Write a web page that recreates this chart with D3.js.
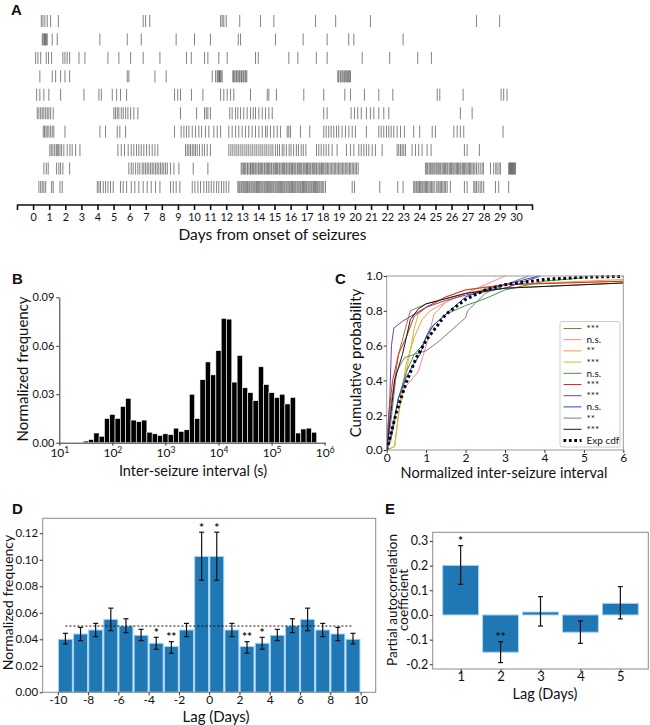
<!DOCTYPE html>
<html><head><meta charset="utf-8">
<script src="https://cdn.jsdelivr.net/npm/d3@7"></script>
<style>
body{margin:0;background:#fff}
svg text{font-family:Lato,"Open Sans",sans-serif;fill:#111}
</style></head><body>
<svg id="c" width="650" height="725"></svg>
<script>
// ---------------- DATA ----------------
// Panel A: seizure times (days from onset), one array per animal
const row1=[0.51,0.61,0.73,0.88,1.09,1.57,6.84,6.99,7.25,11.65,11.75,11.85,12.0,12.84,14.13,14.96,17.55,18.8,20.96,27.55,28.99];
const row2=[0.57,0.63,0.70,0.73,0.78,0.82,0.88,1.19,1.50,4.15,5.85,6.72,8.89,10.03,11.02,12.75,12.89,15.06,16.78,18.27,19.61,19.93,22.99];
const row3=[0.16,0.30,0.47,0.82,0.96,1.15,1.85,1.98,2.12,2.27,2.85,3.22,4.65,5.33,6.06,6.84,7.88,9.53,9.83,10.65,10.86,11.54,12.06,13.82,13.99,15.89,16.45,17.6,18.27,20.45,22.16,23.9,24.75];
const row4=[0.42,1.19,1.40,1.71,1.98,2.27,5.85,5.95,7.57,8.27,11.13,11.34,11.44,11.49,11.55,11.58,11.63,11.68,11.75,12.41,12.46,12.53,12.61,12.65,12.73,12.79,12.84,12.92,12.96,13.04,13.09,13.17,13.22,13.28,18.93,18.99,19.08,19.13,19.21,19.27,19.36,19.40,19.48,19.55,19.59,19.67,19.72];
const row5=[0.22,0.42,0.67,0.98,1.71,3.16,4.09,4.24,4.92,5.19,5.43,5.81,8.79,8.99,9.16,9.84,10.55,11.65,11.85,12.06,12.27,12.47,13.51,14.55,14.65,15.12,16.82,18.06,19.37,19.72,20.59,21.48,22.35,25.11,25.27,26.72,29.08,29.24,29.45];
const row6=[0.26,0.36,0.47,0.57,0.67,0.78,0.88,0.98,1.09,1.25,5.02,5.12,5.23,5.33,5.48,5.60,5.75,5.89,6.06,6.26,6.51,9.16,10.16,10.65,10.76,10.86,11.02,12.22,12.37,12.58,12.72,12.89,13.09,13.30,13.51,13.68,13.82,14.03,14.24,14.44,14.65,14.86,18.06,18.27,19.76,19.97,20.17,20.39,20.71,20.96,21.17,21.48,21.79,22.1,26.55,27.28];
const row7=[0.63,0.71,0.80,0.88,0.98,1.09,1.19,1.29,1.98,4.15,4.50,5.23,5.39,5.75,8.79,9.20,9.37,9.53,9.68,9.89,10.09,10.30,10.47,10.71,10.92,11.23,11.44,11.65,12.16,12.37,12.58,12.78,12.99,13.20,13.40,13.61,13.82,14.03,14.24,14.44,14.55,14.75,14.96,15.17,15.37,15.79,15.89,16.0,16.61,17.19,18.06,18.21,18.37,18.52,18.68,18.85,18.99,19.2,19.41,19.62,19.83,20.03,20.71,21.48,21.63,21.79,21.96,22.1,22.25,22.41,22.62,22.83,23.07,23.65,24.02,24.8,25.0,26.14,26.35,26.55,26.76,29.2];
const row8=[1.04,1.13,1.23,1.34,1.44,1.50,1.57,1.67,1.77,1.91,2.12,2.29,2.43,2.64,2.91,5.27,5.48,5.68,5.91,6.10,6.26,6.43,6.57,6.72,6.88,7.05,7.22,7.40,7.57,7.75,9.47,9.58,9.68,9.78,9.89,9.99,10.09,10.20,10.34,10.51,10.65,10.82,11.02,12.16,12.29,12.41,12.54,12.66,12.78,12.91,13.03,13.16,13.28,13.40,13.53,13.65,13.78,13.9,14.03,14.15,14.27,14.40,14.52,14.65,14.78,14.90,15.06,15.19,15.31,15.48,15.59,15.74,15.91,16.03,16.19,16.36,16.49,16.66,16.79,16.95,17.61,17.75,17.9,18.06,18.21,18.37,18.58,18.89,19.47,19.72,19.93,20.24,20.39,20.55,20.71,20.86,21.07,21.27,21.69,22.62,22.72,22.83,22.93,23.03,23.14,23.55,23.76,23.96,24.17,24.48,24.73,26.80,26.97,27.73];
const row9=[0.67,0.82,0.94,1.46,1.60,1.71,1.85,2.27,5.95,6.10,6.22,6.37,6.51,6.63,6.78,6.88,6.99,7.09,7.19,7.30,7.40,7.50,7.61,7.71,7.81,7.92,8.02,8.12,8.23,8.34,8.54,8.75,9.06,9.95,10.86,
12.93,12.99,13.08,13.13,13.21,13.30,13.34,13.42,13.51,13.55,13.63,13.70,13.78,13.84,13.91,14.00,14.05,14.14,14.20,14.27,14.36,14.41,14.49,14.57,14.62,14.70,14.78,14.83,14.92,14.98,15.06,15.13,15.19,15.28,15.33,15.41,15.49,15.55,15.62,15.71,15.76,15.84,15.92,15.97,16.06,16.12,16.20,16.27,16.33,16.42,16.48,16.56,16.63,16.69,16.78,16.84,16.91,16.99,17.05,17.13,17.20,17.26,17.35,17.41,17.48,17.57,17.62,17.70,17.78,17.84,17.92,17.99,18.06,18.14,18.21,18.29,18.37,18.46,18.55,18.63,18.72,18.80,18.89,18.97,19.06,19.14,19.23,19.31,19.40,19.49,19.57,19.66,19.74,19.83,19.92,20.01,20.10,20.20,
24.38,24.46,24.52,24.61,24.68,24.74,24.83,24.90,24.97,25.05,25.11,25.20,25.27,25.33,25.42,25.49,25.56,25.63,25.71,25.77,25.86,25.93,26.00,26.08,26.15,26.22,26.30,26.37,26.44,26.52,26.58,26.67,26.74,26.81,26.89,26.96,27.04,27.12,27.19,27.27,27.36,27.45,27.55,27.66,27.78,27.90,27.98,
28.42,28.62,28.75,28.83,28.95,29.04,29.55,29.60,29.64,29.68,29.72,29.76,29.80,29.84,29.88,29.93,29.97];
const row10=[0.36,0.47,0.57,0.67,0.78,1.15,1.25,1.67,1.81,3.99,4.09,4.19,4.36,4.50,4.65,4.81,4.98,5.43,5.60,5.81,6.10,6.32,6.57,6.84,7.09,7.34,7.61,7.88,8.54,8.71,8.89,9.12,9.89,10.05,10.24,10.40,10.61,10.78,10.92,11.07,11.23,11.40,11.54,11.71,11.85,12.0,12.16,
12.72,12.79,12.85,12.93,12.98,13.06,13.12,13.19,13.27,13.32,13.40,13.46,13.54,13.60,13.67,13.74,13.80,13.88,13.94,14.01,14.08,14.15,14.22,14.28,14.36,14.42,14.49,14.56,14.62,14.70,14.76,14.83,14.90,14.96,15.04,15.10,15.17,15.24,15.30,15.38,15.44,15.51,15.58,15.64,15.72,15.78,15.85,15.92,15.98,16.06,16.12,16.19,16.26,16.32,16.40,16.46,16.53,16.60,16.66,16.74,16.80,16.87,16.94,17.00,17.08,17.14,17.21,17.28,17.34,17.42,17.48,17.55,17.62,17.68,17.76,17.82,17.90,17.97,18.06,
18.17,19.83,19.97,21.54,22.66,22.99,23.65,23.72,23.80,23.86,23.93,24.01,24.08,24.16,24.22,24.30,24.38,24.45,24.52,24.60,24.68,24.76,24.84,24.92,25.05,25.15,25.22,25.30,25.38,25.46,25.55,25.63,25.73,25.93,26.80,26.97,27.38,27.46,27.55,27.66,27.78,27.88,28.0,28.73,28.93,29.55];
const dayLabels=[0,1,2,3,4,5,6,7,8,9,10,11,12,13,14,15,16,17,18,19,20,21,22,23,24,25,26,27,28,29,30];

// Panel B: histogram, bin centres in log10(seconds)
const histLogCenters=[1.5,1.6,1.7,1.8,1.9,2.0,2.1,2.2,2.3,2.4,2.5,2.6,2.7,2.8,2.9,3.0,3.1,3.2,3.3,3.4,3.5,3.6,3.7,3.8,3.9,4.0,4.1,4.2,4.3,4.4,4.5,4.6,4.7,4.8,4.9,5.0,5.1,5.2,5.3,5.4,5.5,5.6,5.7,5.8];
const histFreq=[0.001,0.002,0.006,0.004,0.015,0.0175,0.015,0.0225,0.0275,0.014,0.013,0.014,0.0065,0.0055,0.0045,0.0055,0.005,0.009,0.007,0.008,0.030,0.015,0.039,0.050,0.042,0.057,0.077,0.0765,0.0375,0.054,0.034,0.031,0.026,0.047,0.036,0.031,0.028,0.030,0.024,0.028,0.006,0.0085,0.009,0.0065];
const histYTicks=[0,0.03,0.06,0.09];
const histXTicks=[1e1,1e2,1e3,1e4,1e5,1e6];

// Panel C: empirical CDFs [x, p]
const cdfOlive=[[0,0],[0.1,0.25],[0.3,0.55],[0.5,0.72],[0.6,0.8],[1.0,0.84],[1.5,0.87],[2,0.9],[3,0.93],[6,0.96]];
const cdfPink=[[0,0],[0.15,0.1],[0.3,0.3],[0.5,0.37],[0.8,0.45],[1.0,0.6],[1.2,0.78],[1.5,0.85],[2,0.9],[2.5,0.95],[3,1.0]];
const cdfOrange=[[0,0],[0.2,0.02],[0.35,0.3],[0.5,0.5],[0.7,0.65],[0.9,0.75],[1.1,0.8],[1.5,0.85],[2,0.9],[3,0.95],[4,0.96],[6,0.98]];
const cdfYellow=[[0,0],[0.2,0.02],[0.3,0.2],[0.5,0.45],[0.7,0.7],[0.8,0.78],[1.0,0.82],[1.5,0.88],[2,0.92],[3,0.95],[6,0.97]];
const cdfGreen=[[0,0],[0.1,0.05],[0.3,0.3],[0.5,0.45],[0.7,0.55],[0.9,0.6],[1.1,0.7],[1.5,0.78],[2,0.83],[2.5,0.87],[3,0.92],[4,0.97],[5,0.99]];
const cdfRed=[[0,0],[0.05,0.2],[0.15,0.4],[0.3,0.55],[0.5,0.65],[0.7,0.77],[1.0,0.82],[1.5,0.88],[2,0.92],[3,0.95],[6,0.97]];
const cdfPurple=[[0,0],[0.08,0.3],[0.12,0.6],[0.18,0.7],[0.4,0.74],[0.7,0.78],[1.0,0.82],[1.5,0.86],[2,0.89],[3,0.93],[3.9,1.0]];
const cdfBlue=[[0,0],[0.1,0.08],[0.3,0.3],[0.5,0.42],[0.7,0.5],[0.85,0.55],[1.0,0.65],[1.2,0.72],[1.6,0.8],[2,0.88],[2.5,0.92],[3,0.95],[3.85,1.0]];
const cdfGray=[[0,0],[0.1,0.15],[0.25,0.45],[0.45,0.53],[0.7,0.55],[1.0,0.57],[1.3,0.62],[1.6,0.68],[2.0,0.76],[2.05,0.8],[2.5,0.9],[3,0.95],[3.6,1.0]];
const cdfBlack=[[0,0],[0.05,0.1],[0.2,0.4],[0.4,0.55],[0.6,0.75],[0.8,0.81],[1.0,0.84],[1.5,0.87],[2,0.9],[3,0.93],[6,0.96]];
const cdfExp=[[0,0],[0.25,0.22],[0.5,0.39],[0.75,0.53],[1,0.63],[1.5,0.78],[2,0.865],[2.5,0.92],[3,0.95],[4,0.98],[5,0.993],[6,0.998]];
const cdfLabels=["***","n.s.","**","***","n.s.","***","***","n.s.","**","***","Exp cdf"];
const cdfTicksX=[0,1,2,3,4,5,6];
const cdfTicksY=[0,0.2,0.4,0.6,0.8,1.0];

// Panel D
const lagD=[-9.5,-8.5,-7.5,-6.5,-5.5,-4.5,-3.5,-2.5,-1.5,-0.5,0.5,1.5,2.5,3.5,4.5,5.5,6.5,7.5,8.5,9.5];
const freqD=[0.040,0.044,0.047,0.055,0.050,0.043,0.037,0.0345,0.047,0.1025,0.1025,0.047,0.0345,0.037,0.043,0.050,0.055,0.047,0.044,0.040];
const errLowD=[0.0365,0.039,0.042,0.0465,0.045,0.039,0.0325,0.0295,0.042,0.0845,0.0845,0.042,0.0295,0.0325,0.039,0.045,0.0465,0.042,0.039,0.0365];
const errHighD=[0.0445,0.049,0.052,0.0635,0.0555,0.0475,0.0415,0.0382,0.052,0.1208,0.1208,0.052,0.0382,0.0415,0.0475,0.0555,0.0635,0.052,0.049,0.0445];
const starsD=["","","","","","","*","**","","*","*","","**","*","","","","","",""];
const chanceD=0.05;
const ticksDX=[-10,-8,-6,-4,-2,0,2,4,6,8,10];
const ticksDY=[0,0.02,0.04,0.06,0.08,0.10,0.12];

// Panel E
const lagE=[1,2,3,4,5];
const pacfE=[0.201,-0.151,0.012,-0.070,0.047];
const errLowE=[0.124,-0.193,-0.045,-0.115,-0.016];
const errHighE=[0.281,-0.108,0.074,-0.024,0.115];
const starsE=["*","**","","",""];
const ticksEY=[-0.2,-0.1,0.0,0.1,0.2,0.3];

// ---------------- DRAWING ----------------
const svg=d3.select("#c");
function letter(t,x,y){svg.append("text").attr("x",x).attr("y",y).text(t).style("font-family","'Liberation Sans',Arial,sans-serif").style("font-weight","bold").style("font-size","15px");}
function styleAxis(g,fs){g.selectAll("path,line").attr("stroke","#333");g.selectAll("text").style("font-size",fs+"px").attr("fill","#111");}
const fx=n=>d=>d.toFixed(n);

// ---- A ----
letter("A",11,15);
const xA=d3.scaleLinear().domain([-1,31]).range([17,532]);
const rows=[row1,row2,row3,row4,row5,row6,row7,row8,row9,row10];
const yA=d3.scalePoint().domain(d3.range(rows.length)).range([21,187]);
const gR=svg.append("g");
rows.forEach((r,i)=>{
  gR.selectAll(null).data(r).enter().append("line")
    .attr("x1",d=>xA(d)).attr("x2",d=>xA(d))
    .attr("y1",yA(i)-6).attr("y2",yA(i)+6)
    .attr("stroke","#444").attr("stroke-width",0.9).attr("stroke-opacity",0.75);
});
const axA=svg.append("g").attr("transform","translate(0,204.5)")
  .call(d3.axisBottom(xA).tickValues([-1,...dayLabels,31]).tickSize(5.5).tickSizeOuter(0).tickPadding(3.5)
  .tickFormat(d=>dayLabels.includes(d)?String(d):""));
axA.selectAll("path,line").attr("stroke","#111").attr("stroke-width",1.6);
axA.selectAll("text").style("font-size","10.8px").attr("fill","#111");
svg.append("text").attr("x",272.5).attr("y",240).attr("text-anchor","middle").style("font-size","15.5px").text("Days from onset of seizures");

// ---- B ----
letter("B",12,284);
const xB=d3.scaleLog().domain([10,1e6]).range([59.3,324.7]);
const yB=d3.scaleLinear().domain([0,0.09]).range([442.7,297.3]);
svg.append("g").selectAll("rect").data(histLogCenters).enter().append("rect")
  .attr("x",(d)=>xB(Math.pow(10,d-0.05)))
  .attr("width",d=>xB(Math.pow(10,d+0.05))-xB(Math.pow(10,d-0.05)))
  .attr("y",(d,i)=>yB(histFreq[i]))
  .attr("height",(d,i)=>yB(0)-yB(histFreq[i]))
  .attr("fill","#000").attr("stroke","#fff").attr("stroke-width",0.6);
const ayB=svg.append("g").attr("transform","translate(59.3,0)")
  .call(d3.axisLeft(yB).tickValues(histYTicks).tickFormat(fx(2)).tickSize(3).tickSizeOuter(0).tickPadding(2));
styleAxis(ayB,11);
const axB=svg.append("g").attr("transform","translate(0,442.7)")
  .call(d3.axisBottom(xB).tickValues(histXTicks).tickSize(3).tickSizeOuter(0).tickPadding(3).tickFormat(()=>""));
styleAxis(axB,12);
axB.selectAll(".tick text").each(function(d){
  const t=d3.select(this);
  t.append("tspan").text("10");
  t.append("tspan").attr("dy","-0.45em").style("font-size","8.5px").text(Math.round(Math.log10(d)));
});
svg.append("text").attr("x",193).attr("y",475.5).attr("text-anchor","middle").style("font-size","14.5px").text("Inter-seizure interval (s)");
svg.append("text").attr("transform","translate(27.5,369) rotate(-90)").attr("text-anchor","middle").style("font-size","15px").text("Normalized frequency");

// ---- C ----
letter("C",335,284);
const xC=d3.scaleLinear().domain([0,6]).range([386.7,623.3]);
const yC=d3.scaleLinear().domain([0,1]).range([450,276]);
svg.append("defs").append("clipPath").attr("id","clipC").append("rect")
  .attr("x",386.7).attr("y",275).attr("width",236.6).attr("height",175);
const cdfs=[cdfOlive,cdfPink,cdfOrange,cdfYellow,cdfGreen,cdfRed,cdfPurple,cdfBlue,cdfGray,cdfBlack,cdfExp];
const cdfColors=["#8a7a3a","#f4898e","#f79a4a","#c2c22e","#3a9a3a","#e8262a","#7a3ea0","#2b3df2","#7f7f7f","#1a1a1a","#000"];
const lineC=d3.line().x(d=>xC(d[0])).y(d=>yC(d[1])).curve(d3.curveLinear);
const gC=svg.append("g").attr("clip-path","url(#clipC)");
cdfs.forEach((c,i)=>{
  const p=gC.append("path").datum(c).attr("d",lineC).attr("fill","none").attr("stroke",cdfColors[i]);
  if(i===10) p.attr("stroke-width",3).attr("stroke-dasharray","2.7,2.7");
  else p.attr("stroke-width",1);
});
svg.append("rect").attr("x",386.7).attr("y",276).attr("width",236.6).attr("height",174).attr("fill","none").attr("stroke","#999");
const axC=svg.append("g").attr("transform","translate(0,450)")
  .call(d3.axisBottom(xC).tickValues(cdfTicksX).tickFormat(d=>String(d)).tickSize(3).tickSizeOuter(0).tickPadding(0));
axC.select(".domain").remove();styleAxis(axC,12);
const ayC=svg.append("g").attr("transform","translate(386.7,0)")
  .call(d3.axisLeft(yC).tickValues(cdfTicksY).tickFormat(fx(1)).tickSize(3).tickSizeOuter(0).tickPadding(1));
ayC.select(".domain").remove();styleAxis(ayC,12);
// legend
const lg=svg.append("g");
lg.append("rect").attr("x",560).attr("y",321.5).attr("width",60).attr("height",125.5).attr("rx",2).attr("fill","#fff").attr("stroke","#ccc");
const yLeg=d3.scalePoint().domain(d3.range(cdfLabels.length)).range([328.5,440.5]);
cdfLabels.forEach((l,i)=>{
  const ln=lg.append("line").attr("x1",563.5).attr("x2",581.5).attr("y1",yLeg(i)).attr("y2",yLeg(i)).attr("stroke",cdfColors[i]);
  if(i===10) ln.attr("stroke-width",3).attr("stroke-dasharray","2.7,2.7"); else ln.attr("stroke-width",1);
  lg.append("text").attr("x",586.5).attr("y",yLeg(i)+3.5).style("font-size","10px").text(l);
});
svg.append("text").attr("x",504).attr("y",478).attr("text-anchor","middle").style("font-size","14.5px").text("Normalized inter-seizure interval");
svg.append("text").attr("transform","translate(361,363) rotate(-90)").attr("text-anchor","middle").style("font-size","15px").text("Cumulative probability");

// ---- D ----
letter("D",12,514);
const xD=d3.scaleLinear().domain([-11,11]).range([42.7,375.7]);
const yD=d3.scaleLinear().domain([0,0.1313]).range([692.3,518.3]);
svg.append("g").selectAll("rect").data(lagD).enter().append("rect")
  .attr("x",d=>xD(d-0.46)).attr("width",xD(0.46)-xD(-0.46))
  .attr("y",(d,i)=>yD(freqD[i])).attr("height",(d,i)=>yD(0)-yD(freqD[i]))
  .attr("fill","#1f77b4").attr("stroke","#a8d4f2").attr("stroke-width",1);
svg.append("line").attr("x1",xD(lagD[0])).attr("x2",xD(lagD[lagD.length-1])).attr("y1",yD(chanceD)).attr("y2",yD(chanceD))
  .attr("stroke","#111").attr("stroke-width",1).attr("stroke-dasharray","2,2");
const ebD=svg.append("g").attr("stroke","#111").attr("stroke-width",1.2);
lagD.forEach((d,i)=>{
  const x=xD(d);
  ebD.append("line").attr("x1",x).attr("x2",x).attr("y1",yD(errLowD[i])).attr("y2",yD(errHighD[i]));
  ebD.append("line").attr("x1",x-2.5).attr("x2",x+2.5).attr("y1",yD(errLowD[i])).attr("y2",yD(errLowD[i]));
  ebD.append("line").attr("x1",x-2.5).attr("x2",x+2.5).attr("y1",yD(errHighD[i])).attr("y2",yD(errHighD[i]));
  if(starsD[i]) svg.append("text").attr("x",x).attr("y",yD(errHighD[i])-0.5).attr("text-anchor","middle").style("font-size","12px").style("font-weight","bold").text(starsD[i]);
});
svg.append("rect").attr("x",42.7).attr("y",518.3).attr("width",333).attr("height",174).attr("fill","none").attr("stroke","#8c8c8c");
const axD=svg.append("g").attr("transform","translate(0,692.3)")
  .call(d3.axisBottom(xD).tickValues(ticksDX).tickFormat(d=>String(d)).tickSize(3).tickSizeOuter(0).tickPadding(0.5));
axD.select(".domain").remove();styleAxis(axD,12);
const ayD=svg.append("g").attr("transform","translate(42.7,0)")
  .call(d3.axisLeft(yD).tickValues(ticksDY).tickFormat(fx(2)).tickSize(3).tickSizeOuter(0).tickPadding(1.5));
ayD.select(".domain").remove();styleAxis(ayD,11.5);
svg.append("text").attr("x",216).attr("y",722).attr("text-anchor","middle").style("font-size","15px").text("Lag (Days)");
svg.append("text").attr("transform","translate(13,602.5) rotate(-90)").attr("text-anchor","middle").style("font-size","14px").text("Normalized frequency");

// ---- E ----
letter("E",385,514);
const xE=d3.scaleLinear().domain([0.3,5.7]).range([432.7,648.3]);
const yE=d3.scaleLinear().domain([-0.219,0.335]).range([669,532.3]);
svg.append("g").selectAll("rect").data(lagE).enter().append("rect")
  .attr("x",d=>xE(d-0.45)).attr("width",xE(0.45)-xE(-0.45))
  .attr("y",(d,i)=>yE(Math.max(0,pacfE[i]))).attr("height",(d,i)=>Math.abs(yE(pacfE[i])-yE(0)))
  .attr("fill","#1f77b4").attr("stroke","#a8d4f2").attr("stroke-width",1);
const ebE=svg.append("g").attr("stroke","#111").attr("stroke-width",1.2);
lagE.forEach((d,i)=>{
  const x=xE(d);
  ebE.append("line").attr("x1",x).attr("x2",x).attr("y1",yE(errLowE[i])).attr("y2",yE(errHighE[i]));
  ebE.append("line").attr("x1",x-2.5).attr("x2",x+2.5).attr("y1",yE(errLowE[i])).attr("y2",yE(errLowE[i]));
  ebE.append("line").attr("x1",x-2.5).attr("x2",x+2.5).attr("y1",yE(errHighE[i])).attr("y2",yE(errHighE[i]));
  if(starsE[i]) svg.append("text").attr("x",x).attr("y",yE(errHighE[i])-0.5).attr("text-anchor","middle").style("font-size","12px").style("font-weight","bold").text(starsE[i]);
});
svg.append("rect").attr("x",432.7).attr("y",532.3).attr("width",215.6).attr("height",136.7).attr("fill","none").attr("stroke","#8c8c8c");
const axE=svg.append("g").attr("transform","translate(0,669)")
  .call(d3.axisBottom(xE).tickValues(lagE).tickFormat(d=>String(d)).tickSize(3).tickSizeOuter(0).tickPadding(0));
axE.select(".domain").remove();styleAxis(axE,13);
const ayE=svg.append("g").attr("transform","translate(432.7,0)")
  .call(d3.axisLeft(yE).tickValues(ticksEY).tickFormat(fx(1)).tickSize(3).tickSizeOuter(0).tickPadding(1.5));
ayE.select(".domain").remove();styleAxis(ayE,12.5);
svg.append("text").attr("x",545).attr("y",699).attr("text-anchor","middle").style("font-size","14.5px").text("Lag (Days)");
const ylE=svg.append("text").attr("transform","translate(396.5,600) rotate(-90)").attr("text-anchor","middle").style("font-size","13.5px");
ylE.append("tspan").attr("x",0).attr("dy",0).text("Partial autocorrelation");
ylE.append("tspan").attr("x",0).attr("dy","11.8").text("coefficient");
</script>
</body></html>
